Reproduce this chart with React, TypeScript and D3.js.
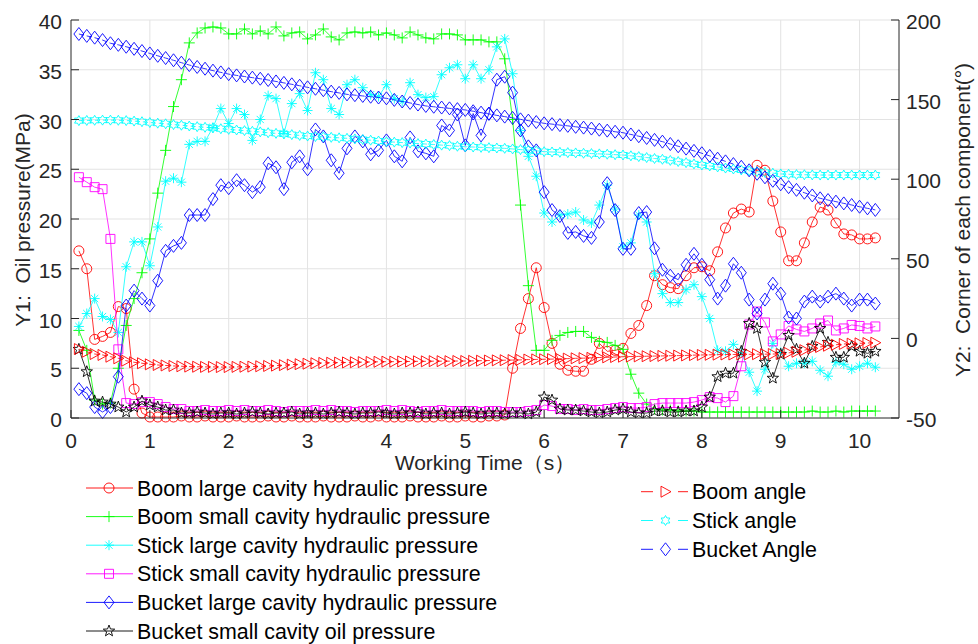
import React from "react";
import * as d3 from "d3";

// sample times 0.1 .. 10.2 s
const times = d3.range(1, 103).map(i => i / 10);

// Y1 – oil pressure (MPa)
const boomLarge = [
  16.8, 15.0, 7.9, 8.2, 8.6, 11.2, 11.0, 2.9, 0.5, 0.1,
  0.1, 0.1, 0.1, 0.2, 0.1, 0.1, 0.2, 0.1, 0.1, 0.1,
  0.2, 0.1, 0.1, 0.1, 0.2, 0.1, 0.1, 0.2, 0.1, 0.1,
  0.1, 0.2, 0.1, 0.1, 0.1, 0.2, 0.1, 0.1, 0.2, 0.1,
  0.1, 0.1, 0.2, 0.1, 0.1, 0.1, 0.2, 0.1, 0.1, 0.2,
  0.1, 0.1, 0.2, 0.2, 0.3, 5.0, 9.0, 12.0, 15.1, 11.1,
  7.5, 5.4, 4.8, 4.7, 4.7, 5.9, 7.5, 6.7, 6.8, 7.0,
  8.5, 9.3, 11.3, 14.3, 13.4, 13.1, 13.0, 14.3, 15.1, 15.2,
  14.8, 16.7, 19.1, 20.6, 21.0, 20.7, 25.4, 24.9, 21.8, 18.7,
  15.8, 15.8, 17.6, 19.7, 21.2, 20.9, 19.6, 18.5, 18.4, 18.0,
  18.0, 18.1,
];
const boomSmall = [
  8.8, 6.8, 1.8, 1.4, 1.5, 5.0, 9.3, 12.0, 14.6, 18.0,
  22.6, 26.9, 31.3, 34.0, 37.7, 38.7, 39.2, 39.3, 39.2, 38.6,
  38.6, 39.1, 38.6, 38.9, 38.6, 39.3, 38.4, 38.7, 38.8, 38.1,
  38.5, 39.1, 38.3, 38.0, 38.7, 38.8, 38.7, 38.8, 38.5, 38.7,
  38.5, 38.2, 38.8, 38.5, 38.2, 38.1, 38.6, 38.6, 38.5, 38.0,
  38.0, 38.0, 37.8, 37.8, 36.1, 30.0, 21.4, 13.3, 6.8, 6.8,
  7.8, 8.3, 8.6, 8.7, 8.7, 8.1, 7.7, 7.6, 7.3, 6.9,
  4.4, 2.5, 1.4, 0.9, 0.8, 0.8, 0.7, 0.7, 0.7, 0.6,
  0.6, 0.6, 0.6, 0.6, 0.6, 0.6, 0.6, 0.6, 0.6, 0.6,
  0.6, 0.6, 0.6, 0.7, 0.6, 0.6, 0.7, 0.6, 0.7, 0.7,
  0.7, 0.7,
];
const stickLarge = [
  9.2, 10.5, 12.0, 10.2, 9.9, 8.6, 15.2, 17.7, 17.7, 15.3,
  19.2, 23.8, 24.1, 23.7, 27.5, 27.8, 27.8, 29.2, 31.1, 29.6,
  31.1, 30.5, 27.9, 30.0, 32.4, 32.1, 28.6, 31.6, 32.6, 30.9,
  34.7, 34.0, 31.1, 30.5, 33.5, 34.0, 33.2, 32.5, 32.3, 33.5,
  32.1, 31.8, 33.7, 32.5, 32.2, 32.3, 34.5, 35.2, 35.5, 34.1,
  35.5, 34.1, 35.0, 37.3, 38.1, 34.6, 28.9, 26.3, 24.3, 20.6,
  19.7, 20.4, 20.5, 20.7, 19.9, 19.6, 21.4, 23.4, 21.0, 17.2,
  17.6, 20.4, 19.7, 14.5, 12.5, 11.6, 11.6, 12.9, 13.4, 12.2,
  10.0, 6.8, 6.7, 7.4, 6.6, 4.6, 2.7, 4.9, 7.5, 6.6,
  5.2, 5.5, 5.5, 5.7, 4.8, 4.2, 5.6, 5.4, 4.9, 5.2,
  5.5, 5.1,
];
const stickSmall = [
  24.2, 23.7, 23.2, 23.0, 18.0, 6.9, 1.5, 1.4, 1.6, 1.6,
  1.4, 1.1, 0.9, 0.9, 0.7, 0.7, 0.8, 0.7, 0.7, 0.8,
  0.7, 0.8, 0.7, 0.7, 0.8, 0.7, 0.6, 0.7, 0.7, 0.7,
  0.8, 0.7, 0.8, 0.7, 0.7, 0.6, 0.7, 0.7, 0.7, 0.8,
  0.7, 0.8, 0.7, 0.6, 0.7, 0.7, 0.8, 0.7, 0.7, 0.7,
  0.7, 0.6, 0.7, 0.7, 0.6, 0.6, 0.6, 0.7, 0.8, 1.3,
  1.2, 0.9, 0.9, 0.8, 0.9, 0.8, 0.8, 0.9, 1.0, 1.1,
  1.0, 1.0, 1.1, 1.4, 1.5, 1.5, 1.5, 1.5, 1.6, 1.8,
  2.1, 2.0, 1.6, 2.2, 5.2, 9.4, 10.7, 9.6, 7.7, 8.4,
  9.25, 8.9, 8.7, 9.0, 9.5, 9.8, 8.8, 9.0, 9.35, 9.25,
  9.0, 9.2,
];
const bucketLarge = [
  2.9, 2.5, 1.1, 0.6, 1.1, 4.15, 11.3, 12.8, 12.0, 11.3,
  13.8, 16.8, 17.3, 17.6, 20.4, 20.4, 20.4, 22.0, 23.4, 23.1,
  23.9, 23.4, 22.7, 23.2, 25.6, 25.2, 23.0, 25.7, 26.3, 25.0,
  29.0, 28.3, 25.9, 24.6, 27.1, 28.3, 27.8, 26.5, 26.9, 27.9,
  26.3, 25.8, 28.2, 26.8, 26.6, 26.3, 29.4, 28.9, 30.5, 27.4,
  30.6, 28.4, 30.6, 34.0, 34.3, 32.7, 28.9, 27.3, 26.9, 22.7,
  20.9, 20.3, 18.6, 18.7, 18.3, 18.1, 19.7, 23.6, 20.9, 17.0,
  17.0, 20.6, 20.7, 17.05, 14.9, 14.3, 13.9, 15.4, 16.5, 15.4,
  13.9, 12.0, 13.3, 15.5, 14.6, 11.9, 10.5, 11.9, 13.5, 12.5,
  10.1, 10.0, 11.7, 12.2, 11.7, 12.2, 12.5, 12.0, 11.3, 11.9,
  11.9, 11.5,
];
const bucketSmall = [
  6.9, 4.65, 1.7, 1.6, 1.4, 1.1, 0.6, 1.1, 1.7, 1.3,
  1.1, 0.8, 0.8, 0.5, 0.5, 0.6, 0.5, 0.4, 0.5, 0.5,
  0.4, 0.5, 0.6, 0.5, 0.4, 0.5, 0.5, 0.6, 0.4, 0.5,
  0.5, 0.4, 0.5, 0.6, 0.5, 0.4, 0.5, 0.5, 0.6, 0.5,
  0.4, 0.5, 0.5, 0.6, 0.4, 0.5, 0.5, 0.4, 0.5, 0.6,
  0.5, 0.4, 0.5, 0.5, 0.4, 0.5, 0.5, 0.4, 0.6, 2.1,
  1.8, 0.9, 0.8, 0.8, 0.7, 0.6, 0.5, 0.6, 0.8, 0.9,
  0.6, 0.5, 0.5, 0.7, 0.7, 0.6, 0.6, 0.7, 0.7, 1.1,
  2.1, 4.15, 4.5, 4.5, 6.7, 9.5, 9.0, 5.6, 4.0, 6.4,
  8.3, 6.9, 5.5, 7.2, 9.0, 7.6, 6.1, 6.1, 7.2, 6.7,
  6.5, 6.7,
];

// Y2 – component angles (deg)
const boomAngle = [
  -6.7, -8.4, -9.8, -10.4, -11.5, -12.5, -14.0, -15.0, -15.6, -16.3,
  -16.7, -17.0, -17.3, -17.5, -17.7, -17.8, -17.9, -17.9, -18.0, -18.0,
  -17.9, -17.8, -17.7, -17.5, -17.3, -17.1, -16.8, -16.5, -16.2, -15.9,
  -15.6, -15.4, -15.3, -15.2, -15.1, -15.0, -14.9, -14.8, -14.7, -14.6,
  -14.6, -14.5, -14.5, -14.4, -14.4, -14.3, -14.3, -14.3, -14.2, -14.2,
  -14.1, -14.0, -13.9, -13.8, -13.7, -13.6, -13.5, -13.3, -13.2, -13.1,
  -13.0, -12.8, -12.7, -12.5, -12.4, -12.2, -12.0, -11.9, -11.7, -11.5,
  -11.4, -11.3, -11.2, -11.1, -11.0, -10.9, -10.8, -10.7, -10.5, -10.4,
  -10.3, -10.2, -10.1, -10.1, -10.0, -10.0, -9.9, -9.9, -9.8, -9.8,
  -9.1, -8.4, -7.4, -6.3, -5.4, -4.6, -4.0, -3.5, -3.3, -3.1,
  -2.9, -2.7,
];
const stickAngle = [
  136.8, 136.9, 137.0, 137.1, 137.1, 137.0, 136.8, 136.5, 136.1, 135.6,
  135.2, 134.8, 134.3, 133.9, 133.4, 133.0, 132.6, 132.2, 131.7, 131.3,
  130.9, 130.5, 130.1, 129.7, 129.2, 128.8, 128.4, 128.0, 127.5, 127.1,
  126.8, 126.6, 126.3, 126.0, 125.7, 125.3, 124.9, 124.5, 124.0, 123.6,
  123.3, 123.0, 122.7, 122.4, 122.1, 121.8, 121.4, 121.1, 120.7, 120.4,
  120.2, 120.0, 119.8, 119.6, 119.4, 119.0, 118.6, 118.2, 117.8, 117.3,
  117.1, 116.9, 116.7, 116.5, 116.3, 116.1, 115.9, 115.7, 115.4, 115.2,
  114.7, 114.2, 113.6, 113.0, 112.5, 111.8, 111.1, 110.4, 109.6, 108.9,
  108.3, 107.7, 107.0, 106.4, 105.8, 105.3, 104.8, 104.3, 103.8, 103.3,
  103.1, 102.9, 102.8, 102.7, 102.6, 102.6, 102.6, 102.6, 102.6, 102.6,
  102.6, 102.6,
];
const bucketAngle = [
  191.2, 190.0, 188.9, 187.4, 185.4, 184.4, 183.2, 181.9, 180.5, 179.0,
  177.5, 176.1, 174.7, 173.2, 171.7, 170.5, 169.4, 168.2, 167.1, 166.0,
  165.2, 164.5, 163.8, 163.1, 162.3, 161.4, 160.5, 159.6, 158.7, 157.7,
  156.8, 155.9, 155.0, 154.2, 153.3, 152.8, 152.3, 151.8, 151.3, 150.8,
  149.8, 148.8, 147.9, 146.9, 146.0, 145.5, 145.0, 144.5, 144.0, 143.5,
  142.7, 141.8, 141.0, 140.1, 139.3, 138.5, 137.6, 136.8, 135.9, 135.1,
  134.6, 134.0, 133.5, 132.9, 132.4, 131.8, 131.1, 130.5, 129.8, 129.2,
  128.1, 127.0, 125.9, 124.7, 123.6, 122.1, 120.7, 119.2, 117.8, 116.3,
  114.6, 112.9, 111.2, 109.5, 107.8, 105.6, 103.4, 101.2, 99.0, 96.8,
  95.0, 93.3, 91.5, 89.8, 88.0, 86.9, 85.9, 84.8, 83.8, 82.7,
  81.7, 80.7,
];

const xTicks = [0, 1, 2, 3, 4, 5, 6, 7, 8, 9, 10];
const yLeftTicks = [0, 5, 10, 15, 20, 25, 30, 35, 40];
const yRightTicks = [-50, 0, 50, 100, 150, 200];

type Marker = "circle" | "plus" | "asterisk" | "square" | "diamond" | "pentagram" | "triangle" | "hexagram";

const pressureSeries = [
  { name: "Boom large cavity hydraulic pressure", values: boomLarge, color: "#ff0000", marker: "circle" as Marker },
  { name: "Boom small cavity hydraulic pressure", values: boomSmall, color: "#00ff00", marker: "plus" as Marker },
  { name: "Stick large cavity hydraulic pressure", values: stickLarge, color: "#00ffff", marker: "asterisk" as Marker },
  { name: "Stick small cavity hydraulic pressure", values: stickSmall, color: "#ff00ff", marker: "square" as Marker },
  { name: "Bucket large cavity hydraulic pressure", values: bucketLarge, color: "#0000ff", marker: "diamond" as Marker },
  { name: "Bucket small cavity oil pressure", values: bucketSmall, color: "#000000", marker: "pentagram" as Marker },
];
const angleSeries = [
  { name: "Boom angle", values: boomAngle, color: "#ff0000", marker: "triangle" as Marker },
  { name: "Stick angle", values: stickAngle, color: "#00ffff", marker: "hexagram" as Marker },
  { name: "Bucket Angle", values: bucketAngle, color: "#0000ff", marker: "diamond" as Marker },
];

function star(n: number, ro: number, ri: number) {
  const pts: string[] = [];
  for (let k = 0; k < n * 2; k++) {
    const r = k % 2 === 0 ? ro : ri;
    const a = -Math.PI / 2 + (k * Math.PI) / n;
    pts.push(`${(r * Math.cos(a)).toFixed(2)},${(r * Math.sin(a)).toFixed(2)}`);
  }
  return "M" + pts.join("L") + "Z";
}

const markerPath: Record<Marker, string> = {
  circle: "M5,0A5,5 0 1 1 -5,0A5,5 0 1 1 5,0Z",
  plus: "M-5.5,0H5.5M0,-5.5V5.5",
  asterisk: "M-5,0H5M0,-5V5M-3.6,-3.6L3.6,3.6M-3.6,3.6L3.6,-3.6",
  square: "M-4.5,-4.5H4.5V4.5H-4.5Z",
  diamond: "M0,-6.5L5,0L0,6.5L-5,0Z",
  pentagram: star(5, 6, 2.5),
  triangle: "M-4.5,-5.5L5.5,0L-4.5,5.5Z",
  hexagram: star(6, 5, 2.9),
};

const font = "'Liberation Sans', Arial, sans-serif";

export default function App() {
  const W = 978, H = 644;
  const x = d3.scaleLinear().domain([0, 10.5]).range([71, 899]);
  const yL = d3.scaleLinear().domain([0, 40]).range([418, 20]);
  const yR = d3.scaleLinear().domain([-50, 200]).range([418, 20]);
  const axisColor = "#262626";

  const lineFor = (y: d3.ScaleLinear<number, number>) =>
    d3.line<number>().x((_, i) => x(times[i])).y(d => y(d));

  const drawSeries = (s: typeof pressureSeries[0], y: d3.ScaleLinear<number, number>, dashed: boolean) => (
    <g key={s.name}>
      <path d={lineFor(y)(s.values) || ""} fill="none" stroke={s.color} strokeWidth={0.8}
        strokeDasharray={dashed ? "5,3" : undefined} />
      {s.values.map((v, i) => (
        <path key={i} d={markerPath[s.marker]} transform={`translate(${x(times[i])},${y(v)})`}
          fill="none" stroke={s.color} strokeWidth={0.9} />
      ))}
    </g>
  );

  return (
    <div style={{ position: "absolute", left: 0, top: 0 }}>
      <svg width={W} height={H} style={{ display: "block", background: "#fff" }} fontFamily={font}>
        {/* grid */}
        <g stroke="#e3e3e3" strokeWidth={1}>
          {xTicks.filter(t => t > 0).map(t => (
            <line key={"gx" + t} x1={x(t)} x2={x(t)} y1={yL(40)} y2={yL(0)} />
          ))}
          {yLeftTicks.filter(t => t > 0).map(t => (
            <line key={"gy" + t} x1={x(0)} x2={x(10.5)} y1={yL(t)} y2={yL(t)} />
          ))}
        </g>

        {/* series */}
        {pressureSeries.map(s => drawSeries(s, yL, false))}
        {angleSeries.map(s => drawSeries(s, yR, true))}

        {/* axes */}
        <g stroke={axisColor} strokeWidth={1}>
          <line x1={x(0)} x2={x(0)} y1={yL(40)} y2={yL(0)} />
          <line x1={x(10.5)} x2={x(10.5)} y1={yL(40)} y2={yL(0)} />
          <line x1={x(0)} x2={x(10.5)} y1={yL(0)} y2={yL(0)} />
          {xTicks.map(t => <line key={"tx" + t} x1={x(t)} x2={x(t)} y1={yL(0)} y2={yL(0) - 8} />)}
          {yLeftTicks.map(t => <line key={"tl" + t} x1={x(0)} x2={x(0) + 8} y1={yL(t)} y2={yL(t)} />)}
          {yRightTicks.map(t => <line key={"tr" + t} x1={x(10.5)} x2={x(10.5) - 8} y1={yR(t)} y2={yR(t)} />)}
        </g>
        <g fill={axisColor} fontSize={21}>
          {xTicks.map(t => (
            <text key={"lx" + t} x={x(t)} y={448} textAnchor="middle">{t}</text>
          ))}
          {yLeftTicks.map(t => (
            <text key={"ll" + t} x={62} y={yL(t) + 9} textAnchor="end">{t}</text>
          ))}
          {yRightTicks.map(t => (
            <text key={"lr" + t} x={906} y={yR(t) + 9} textAnchor="start">{t}</text>
          ))}
          <text x={485} y={470} textAnchor="middle">Working Time（s）</text>
          <text transform="translate(30,220) rotate(-90)" textAnchor="middle" style={{ whiteSpace: "pre" }}>
            {"Y1:  Oil pressure(MPa)"}
          </text>
          <text transform="translate(970,220) rotate(-90)" textAnchor="middle" style={{ whiteSpace: "pre" }}>
            {"Y2:  Corner of each component(°)"}
          </text>
        </g>

        {/* legend: pressures */}
        {pressureSeries.map((s, i) => {
          const cy = 488 + i * 28.6;
          return (
            <g key={"lg" + i}>
              <line x1={86} x2={133} y1={cy} y2={cy} stroke={s.color} strokeWidth={0.9} />
              <path d={markerPath[s.marker]} transform={`translate(109,${cy})`} fill="none" stroke={s.color} strokeWidth={0.9} />
              <text x={137} y={cy + 7.5} fontSize={21.4} fill="#000">{s.name}</text>
            </g>
          );
        })}
        {/* legend: angles */}
        {angleSeries.map((s, i) => {
          const cy = 491.7 + i * 28.8;
          return (
            <g key={"la" + i}>
              <line x1={641} x2={653} y1={cy} y2={cy} stroke={s.color} strokeWidth={0.9} />
              <line x1={678} x2={688} y1={cy} y2={cy} stroke={s.color} strokeWidth={0.9} />
              <path d={markerPath[s.marker]} transform={`translate(665.5,${cy})`} fill="none" stroke={s.color} strokeWidth={0.9} />
              <text x={692} y={cy + 7.5} fontSize={21.4} fill="#000">{s.name}</text>
            </g>
          );
        })}
      </svg>
    </div>
  );
}
